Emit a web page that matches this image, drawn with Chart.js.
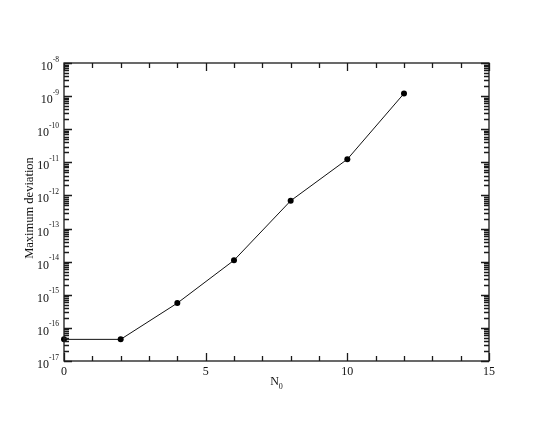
<!DOCTYPE html>
<html>
<head>
<meta charset="utf-8">
<script src="https://cdn.jsdelivr.net/npm/chart.js@4"></script>
<style>
  html, body { margin: 0; padding: 0; background: #fff; }
  #wrap { width: 550px; height: 425px; }
</style>
</head>
<body>
<div id="wrap"><canvas id="devChart" width="550" height="425"></canvas></div>
<script>
// values
const nValues = [0, 2, 4, 6, 8, 10, 12];
const maxDeviation = [4.5e-17, 4.5e-17, 5.6e-16, 1.1e-14, 6.9e-13, 1.24e-11, 1.2e-9];
const xMajorTicks = [0, 5, 10, 15];
const yExponents = [-17, -16, -15, -14, -13, -12, -11, -10, -9, -8];
const xTitle = 'N';
const xTitleSub = '0';
const yTitle = 'Maximum deviation';

const FONT = '"Liberation Serif", "Times New Roman", serif';

function drawText(ctx, txt, x, y, size, align) {
    ctx.font = size + 'px ' + FONT;
    ctx.textAlign = align;
    ctx.fillText(txt, x, y);
    return ctx.measureText(txt).width;
}

function textWidth(ctx, txt, size) {
    ctx.font = size + 'px ' + FONT;
    return ctx.measureText(txt).width;
}

const axesPlugin = {
    id: 'graceAxes',
    afterDraw(chart) {
        const ctx = chart.ctx;
        const area = chart.chartArea;
        const xs = chart.scales.x;
        const ys = chart.scales.y;
        const MAJ = 8, MIN = 5;

        ctx.save();
        ctx.strokeStyle = '#1a1a1a';
        ctx.fillStyle = '#111';
        ctx.lineWidth = 1.3;

        // frame
        ctx.strokeRect(area.left, area.top, area.right - area.left, area.bottom - area.top);

        ctx.beginPath();
        // x ticks: major every 5, minor every 1, pointing inward on top and bottom
        for (let v = 0; v <= 15; v++) {
            const px = Math.round(xs.getPixelForValue(v)) + 0.5;
            const len = (v % 5 === 0) ? MAJ : MIN;
            ctx.moveTo(px, area.bottom); ctx.lineTo(px, area.bottom - len);
            ctx.moveTo(px, area.top); ctx.lineTo(px, area.top + len);
        }
        // y ticks: decades major, 2..9 minor, inward on left and right
        yExponents.forEach((e, i) => {
            const py = Math.round(ys.getPixelForValue(Math.pow(10, e))) + 0.5;
            ctx.moveTo(area.left, py); ctx.lineTo(area.left + MAJ, py);
            ctx.moveTo(area.right, py); ctx.lineTo(area.right - MAJ, py);
            if (i < yExponents.length - 1) {
                for (let k = 2; k <= 9; k++) {
                    const pm = Math.round(ys.getPixelForValue(k * Math.pow(10, e))) + 0.5;
                    ctx.moveTo(area.left, pm); ctx.lineTo(area.left + MIN, pm);
                    ctx.moveTo(area.right, pm); ctx.lineTo(area.right - MIN, pm);
                }
            }
        });
        ctx.stroke();

        ctx.textBaseline = 'alphabetic';
        // x tick labels
        xMajorTicks.forEach(v => {
            drawText(ctx, String(v), xs.getPixelForValue(v), area.bottom + 14, 12, 'center');
        });

        // y tick labels: 10 with a superscript exponent
        yExponents.forEach(e => {
            const py = ys.getPixelForValue(Math.pow(10, e));
            const expStr = '-' + Math.abs(e);
            const right = area.left - 5;
            const we = textWidth(ctx, expStr, 7.5);
            drawText(ctx, expStr, right, py - 1.5, 7.5, 'right');
            drawText(ctx, '10', right - we, py + 7, 12, 'right');
        });

        // x title with subscript
        const cx = (area.left + area.right) / 2;
        const wN = textWidth(ctx, xTitle, 12);
        const wS = textWidth(ctx, xTitleSub, 8);
        const startX = cx - (wN + wS) / 2;
        drawText(ctx, xTitle, startX, area.bottom + 24, 12, 'left');
        drawText(ctx, xTitleSub, startX + wN, area.bottom + 28, 8, 'left');

        // y title, rotated
        ctx.save();
        ctx.translate(33, (area.top + area.bottom) / 2 - 4);
        ctx.rotate(-Math.PI / 2);
        drawText(ctx, yTitle, 0, 0, 12.5, 'center');
        ctx.restore();

        ctx.restore();
    }
};

const ctx = document.getElementById('devChart').getContext('2d');
const devChart = new Chart(ctx, {
    type: 'line',
    data: {
        datasets: [{
            label: yTitle,
            data: nValues.map((n, i) => ({ x: n, y: maxDeviation[i] })),
            borderColor: '#111',
            backgroundColor: '#000',
            borderWidth: 1,
            pointRadius: 3,
            pointBorderWidth: 0,
            pointBackgroundColor: '#000',
            tension: 0,
            clip: false
        }]
    },
    options: {
        responsive: false,
        animation: false,
        layout: { padding: { left: 64, top: 63, right: 61, bottom: 64 } },
        plugins: {
            legend: { display: false },
            tooltip: { enabled: false }
        },
        scales: {
            x: { type: 'linear', min: 0, max: 15, display: false },
            y: { type: 'logarithmic', min: 1e-17, max: 1e-8, display: false }
        }
    },
    plugins: [axesPlugin]
});
</script>
</body>
</html>
